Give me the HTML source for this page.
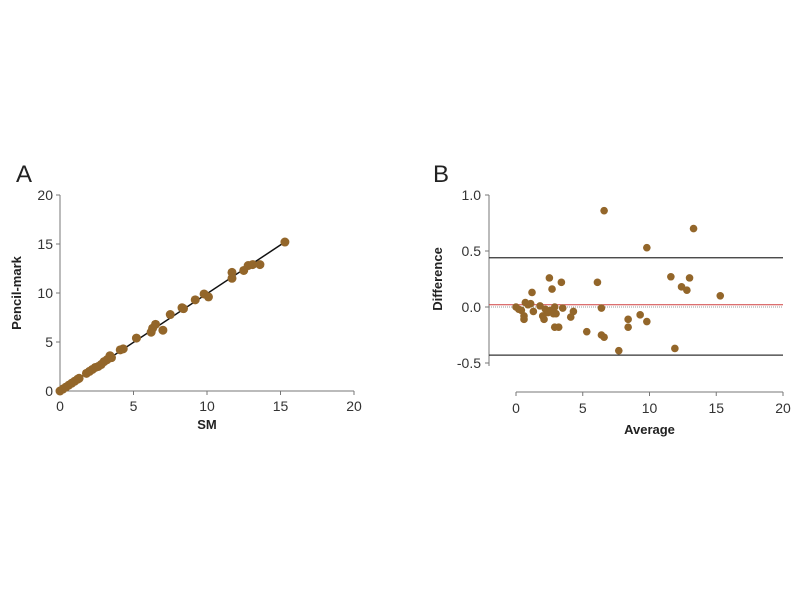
<!DOCTYPE html>
<html><head><meta charset="utf-8"><style>
body{margin:0;background:#fff;}
svg text{font-family:"Liberation Sans",sans-serif;}
</style></head><body>
<svg id="c" width="800" height="600" xmlns="http://www.w3.org/2000/svg"></svg>
<script>
const aTicks=[0,5,10,15,20];
const bXTicks=[0,5,10,15,20];
const bYTicks=[1.0,0.5,0.0,-0.5];
const aSM=[0,0.2,0.4,0.6,0.8,1,1.2,1.3,1.8,2,2.2,2.4,2.6,2.8,3,3.2,3.5,3.4,4.1,4.3,5.2,6.2,6.3,6.5,7,7.5,8.3,8.4,9.2,9.8,10.1,11.7,11.7,12.5,12.8,13.1,13.6,15.3];
const aPencil=[0,0.2,0.4,0.6,0.8,1,1.2,1.3,1.8,2,2.2,2.4,2.5,2.7,3,3.2,3.4,3.6,4.2,4.3,5.4,6,6.4,6.8,6.2,7.8,8.5,8.4,9.3,9.9,9.6,12.1,11.5,12.3,12.8,12.9,12.9,15.2];
const fitLine=[[0,0],[15.3,15.2]];
const bAvg=[6.6,13.3,9.8,11.6,13.0,2.5,6.1,3.4,12.4,12.8,2.7,1.2,15.3,0.7,0.9,1.1,0,0.2,0.4,1.8,1.3,2.2,2.4,2.6,2.9,3.5,3.0,2.8,4.3,6.4,0.6,0.6,2.0,2.1,4.1,8.4,9.3,9.8,2.9,3.2,5.3,8.4,6.4,6.6,7.7,11.9];
const bDiff=[0.86,0.70,0.53,0.27,0.26,0.26,0.22,0.22,0.18,0.15,0.16,0.13,0.10,0.04,0.02,0.03,0,-0.02,-0.03,0.01,-0.04,-0.02,-0.05,-0.03,0.0,-0.01,-0.06,-0.06,-0.04,-0.01,-0.08,-0.11,-0.08,-0.11,-0.09,-0.11,-0.07,-0.13,-0.18,-0.18,-0.22,-0.18,-0.25,-0.27,-0.39,-0.37];
const bLimits=[0.44,-0.43];
const bMean=0.02;

const svg=document.getElementById('c');
const NS='http://www.w3.org/2000/svg';
function mk(tag,at,parent){const e=document.createElementNS(NS,tag);for(const k in at)e.setAttribute(k,at[k]);(parent||svg).appendChild(e);return e;}
const col='#93662a', gray='#777';
// Panel A
const ax=v=>60+v*14.7, ay=v=>391-v*9.8;
let t=mk('text',{x:16,y:182,'font-size':24,fill:'#222'});t.textContent='A';


let l=mk('line',{x1:ax(0),y1:ay(20),x2:ax(0),y2:ay(0),stroke:gray,'stroke-width':1});


l=mk('line',{x1:ax(0),y1:ay(0),x2:ax(20),y2:ay(0),stroke:gray,'stroke-width':1});


aTicks.forEach(v=>{
 mk('line',{x1:ax(0)-4,y1:ay(v),x2:ax(0),y2:ay(v),stroke:gray});
 let tt=mk('text',{x:ax(0)-7,y:ay(v)+5,'font-size':14,fill:'#333','text-anchor':'end'});tt.textContent=v;
 
 
 mk('line',{x1:ax(v),y1:ay(0),x2:ax(v),y2:ay(0)+4,stroke:gray});
 tt=mk('text',{x:ax(v),y:ay(0)+20,'font-size':14,fill:'#333','text-anchor':'middle'});tt.textContent=v;
 
 
});
t=mk('text',{x:ax(10),y:429,'font-size':13,'font-weight':'bold','text-anchor':'middle',fill:'#222'});t.textContent='SM';


t=mk('text',{x:0,y:0,'font-size':13,'font-weight':'bold','text-anchor':'middle',fill:'#222',transform:`translate(21,${ay(10)}) rotate(-90)`});t.textContent='Pencil-mark';


l=mk('line',{x1:ax(fitLine[0][0]),y1:ay(fitLine[0][1]),x2:ax(fitLine[1][0]),y2:ay(fitLine[1][1]),stroke:'#111','stroke-width':1.5});


aSM.forEach((v,i)=>{const c=mk('circle',{cx:ax(v),cy:ay(aPencil[i]),r:4.5,fill:col});
 
 });
// Panel B
const bx=v=>516+v*13.35, by=v=>307-v*112;
t=mk('text',{x:433,y:182,'font-size':24,fill:'#222'});t.textContent='B';


l=mk('line',{x1:489,y1:by(1),x2:489,y2:by(-0.5)+3,stroke:gray});


l=mk('line',{x1:bx(0),y1:392,x2:bx(20),y2:392,stroke:gray});


bYTicks.forEach(v=>{
 mk('line',{x1:485,y1:by(v),x2:489,y2:by(v),stroke:gray});
 let tt=mk('text',{x:481,y:by(v)+5,'font-size':14,fill:'#333','text-anchor':'end'});tt.textContent=v.toFixed(1);
 
 
});
bXTicks.forEach(v=>{
 mk('line',{x1:bx(v),y1:392,x2:bx(v),y2:396,stroke:gray});
 let tt=mk('text',{x:bx(v),y:413,'font-size':14,fill:'#333','text-anchor':'middle'});tt.textContent=v;
 
 
});
t=mk('text',{x:bx(10),y:434,'font-size':13,'font-weight':'bold','text-anchor':'middle',fill:'#222'});t.textContent='Average';


t=mk('text',{x:0,y:0,'font-size':13,'font-weight':'bold','text-anchor':'middle',fill:'#222',transform:`translate(442,${by(0.25)}) rotate(-90)`});t.textContent='Difference';


bLimits.forEach(v=>{const ll=mk('line',{x1:489,y1:by(v),x2:783,y2:by(v),stroke:'#333','stroke-width':1.2});
 
 });
l=mk('line',{x1:489,y1:by(bMean),x2:783,y2:by(bMean),stroke:'#d04040','stroke-width':1});


l=mk('line',{x1:489,y1:by(0),x2:783,y2:by(0),stroke:'#999','stroke-width':1,'stroke-dasharray':'1,1'});


bAvg.forEach((v,i)=>{const c=mk('circle',{cx:bx(v),cy:by(bDiff[i]),r:3.8,fill:col});
 
 });
</script>
</body></html>
